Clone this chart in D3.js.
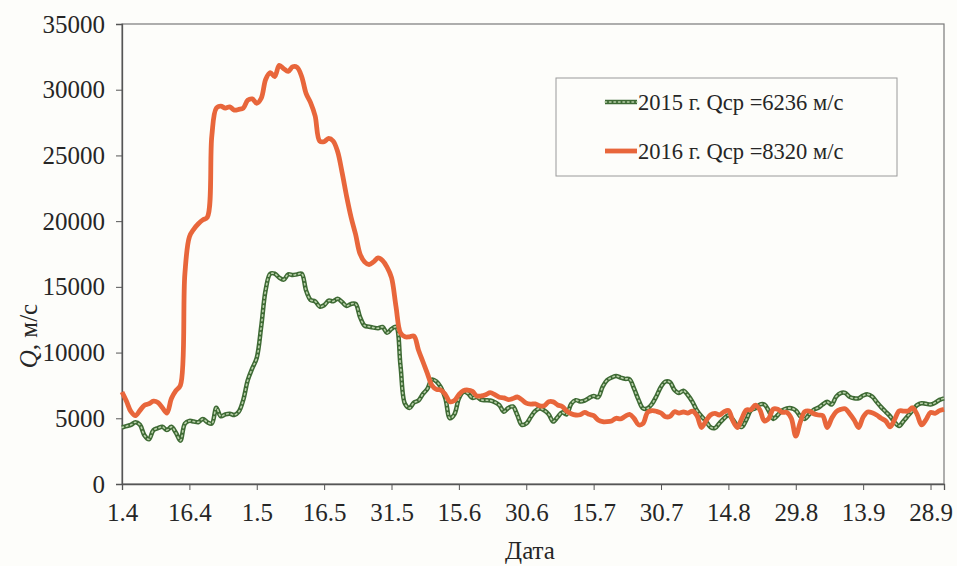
<!DOCTYPE html>
<html>
<head>
<meta charset="utf-8">
<script src="https://cdn.jsdelivr.net/npm/d3@7"></script>
<style>
  html, body { margin: 0; padding: 0; background: #fdfdfa; }
  svg { display: block; }
</style>
</head>
<body>
<svg id="chart" width="957" height="566"></svg>
<script>
// Daily discharge, 1 April – 1 October (m³/s)
const series2015 = [
  4300, 4400, 4500, 4700, 4500, 3700, 3400, 4100, 4250, 4350,
  4100, 4350, 3900, 3300, 4600, 4800, 4750, 4700, 4950, 4700,
  4600, 5800, 5150, 5300, 5350, 5250, 5500, 6400, 7900, 8800,
  9600, 12000, 14800, 16000, 16000, 15700, 15550, 15950, 15900, 15950,
  16000, 14700, 14000, 13900, 13500, 13600, 13950, 13900, 14100, 13850,
  13550, 13700, 13700, 12700, 12050, 11970, 11900, 11850, 11950, 11500,
  11800, 11950, 9000, 6100, 5780, 6200, 6350, 6850, 7250, 7950,
  7800, 7350, 6500, 5000, 5300, 6500, 7000, 6900, 6550, 6620,
  6400, 6380, 6350, 6220, 6000, 5500, 5780, 5900, 5250, 4500,
  4600, 5100, 5550, 5750, 5600, 5300, 4750, 5100, 5450, 5300,
  6100, 6380, 6280, 6350, 6550, 6700, 6600, 7400, 7900, 8100,
  8220, 8100, 8000, 7970, 7250, 6400, 5750, 5750, 6100, 6700,
  7400, 7800, 7750, 7150, 6920, 7100, 6750, 6250, 5600, 5150,
  4800, 4330, 4250, 4620, 4980, 5230, 4900, 4450, 4340, 4900,
  5600, 5750, 6050, 6050, 5550, 4950, 5250, 5600, 5750, 5760,
  5600, 5150, 4950, 5300, 5650, 5800, 6050, 6250, 6050, 6650,
  6920, 6930, 6630, 6520, 6520, 6730, 6820, 6650, 6250, 5850,
  5500, 5150, 4700, 4420, 4800, 5200, 5600, 6000, 6150, 6100,
  6050, 6180, 6400, 6520
];

const series2016 = [
  7000, 6300, 5500, 5200, 5600, 6000, 6100, 6300, 6200, 5800,
  5400, 6500, 7100, 7500, 16000, 18800, 19400, 19800, 20100, 20300,
  26500, 28600, 28750, 28600, 28700, 28450, 28500, 28600, 29200, 29300,
  28970, 29350, 30800, 31300, 31000, 31850, 31600, 31400, 31750, 31700,
  31000, 29700, 29000, 28000, 26100, 26050, 26300, 26100, 25300, 23700,
  21900, 20300, 19000, 17500, 16900, 16700, 16900, 17200, 17000, 16500,
  15700, 13500, 11500, 11200, 11200, 11250, 10200, 9300, 8400, 7500,
  7200, 7150, 6800, 6260, 6350, 6800, 7100, 7150, 7050, 6700,
  6700, 6800, 6950, 6800, 6600, 6550, 6420, 6500, 6620, 6420,
  6150, 6080, 6090, 5950, 5950, 6260, 6250, 6010, 5900, 5550,
  5350, 5250, 5270, 5450, 5300, 5200, 4870, 4740, 4740, 4800,
  5000, 4950, 5150, 5300, 5000, 4500, 4600, 5450, 5580, 5530,
  5400, 5120, 5150, 5500, 5400, 5480, 5400, 5550, 5200, 4300,
  4800, 5250, 5380, 5250, 5480, 5600, 4800, 4300, 5000, 5630,
  5650, 6000, 5650, 4800, 5000, 5700, 5680, 5450, 5450, 5000,
  3650, 4700, 5500, 5550, 5350, 5250, 5200, 4300, 5000, 5500,
  5680, 5730, 5350, 4870, 4300, 5100, 5480, 5420, 5250, 5000,
  4800, 4350, 4900, 5550, 5550, 5550, 5800, 5300, 4500, 4900,
  5450, 5380, 5580, 5680
];

const tickDays = [0, 15, 30, 45, 60, 75, 90, 105, 120, 135, 150, 165, 180];
const tickLabels = ["1.4", "16.4", "1.5", "16.5", "31.5", "15.6", "30.6",
                    "15.7", "30.7", "14.8", "29.8", "13.9", "28.9"];
const yTicks = [0, 5000, 10000, 15000, 20000, 25000, 30000, 35000];
const legendLabels = ["2015 г. Qср =6236 м/с", "2016 г. Qср =8320 м/с"];

const FONT = "Liberation Serif";
const INK = "#262626";
const GREEN = "#3e6a34", GREEN_DOT = "#b9d1aa", ORANGE = "#e8663b";

const svg = d3.select("#chart");
const plot = { left: 122, top: 24, right: 944, bottom: 484 };

const x = d3.scaleLinear().domain([0, series2016.length - 1]).range([plot.left, plot.right]);
const y = d3.scaleLinear().domain([0, 35000]).range([plot.bottom, plot.top]);

function styleText(sel, size) {
  sel.attr("font-family", null)
     .style("font-family", FONT).style("font-size", size + "px").style("fill", INK);
}

// plot frame
svg.append("rect")
  .attr("x", plot.left).attr("y", plot.top)
  .attr("width", plot.right - plot.left).attr("height", plot.bottom - plot.top)
  .attr("fill", "none").attr("stroke", "#7a7a7a").attr("stroke-width", 1.2);

// y axis
const yAxis = d3.axisLeft(y).tickValues(yTicks).tickSize(6).tickPadding(11)
  .tickFormat(d3.format("d"));
const gy = svg.append("g").attr("transform", `translate(${plot.left},0)`).call(yAxis);
gy.attr("font-family", null).style("font-family", FONT);
gy.select(".domain").attr("stroke", "#555").attr("stroke-width", 1.3);
gy.selectAll(".tick line").attr("stroke", "#555");
styleText(gy.selectAll(".tick text"), 25);

// x axis
const xAxis = d3.axisBottom(x).tickValues(tickDays).tickSize(6).tickPadding(13)
  .tickFormat((d, i) => tickLabels[i]);
const gx = svg.append("g").attr("transform", `translate(0,${plot.bottom})`).call(xAxis);
gx.attr("font-family", null).style("font-family", FONT);
gx.select(".domain").attr("stroke", "#555").attr("stroke-width", 1.3);
gx.selectAll(".tick line").attr("stroke", "#555");
styleText(gx.selectAll(".tick text"), 25);

// axis titles
const yt = svg.append("text")
  .attr("transform", "translate(37,336) rotate(-90)")
  .attr("text-anchor", "middle");
yt.append("tspan").style("font-style", "italic").text("Q");
yt.append("tspan").text(", м/с");
styleText(yt, 25);
styleText(svg.append("text")
  .attr("x", 530).attr("y", 559).attr("text-anchor", "middle")
  .text("Дата"), 25);

const line = d3.line()
  .x((d, i) => x(i))
  .y(d => y(d))
  .curve(d3.curveCatmullRom.alpha(0.5));

// 2015: dark green line with light dotted core
svg.append("path").datum(series2015)
  .attr("d", line).attr("fill", "none")
  .attr("stroke", GREEN).attr("stroke-width", 4.5).attr("stroke-linejoin", "round");
svg.append("path").datum(series2015)
  .attr("d", line).attr("fill", "none")
  .attr("stroke", GREEN_DOT).attr("stroke-width", 1.6)
  .attr("stroke-dasharray", "1.5 3").attr("stroke-linecap", "round");

// 2016: solid orange line
svg.append("path").datum(series2016)
  .attr("d", line).attr("fill", "none")
  .attr("stroke", ORANGE).attr("stroke-width", 4.8).attr("stroke-linejoin", "round");

// legend
const lg = svg.append("g");
lg.append("rect").attr("x", 556).attr("y", 78).attr("width", 341).attr("height", 98)
  .attr("fill", "#fdfdfa").attr("stroke", "#9a9a9a").attr("stroke-width", 1);
const rows = [102, 151];
const sx1 = 605, sx2 = 637;
lg.append("line").attr("x1", sx1).attr("x2", sx2).attr("y1", rows[0]).attr("y2", rows[0])
  .attr("stroke", GREEN).attr("stroke-width", 4.5);
lg.append("line").attr("x1", sx1).attr("x2", sx2).attr("y1", rows[0]).attr("y2", rows[0])
  .attr("stroke", GREEN_DOT).attr("stroke-width", 1.6)
  .attr("stroke-dasharray", "1.5 3").attr("stroke-linecap", "round");
lg.append("line").attr("x1", sx1).attr("x2", sx2).attr("y1", rows[1]).attr("y2", rows[1])
  .attr("stroke", ORANGE).attr("stroke-width", 4.8);
legendLabels.forEach((t, i) => {
  styleText(lg.append("text").attr("x", 638).attr("y", rows[i] + 8).text(t), 22.5);
});
</script>
</body>
</html>
